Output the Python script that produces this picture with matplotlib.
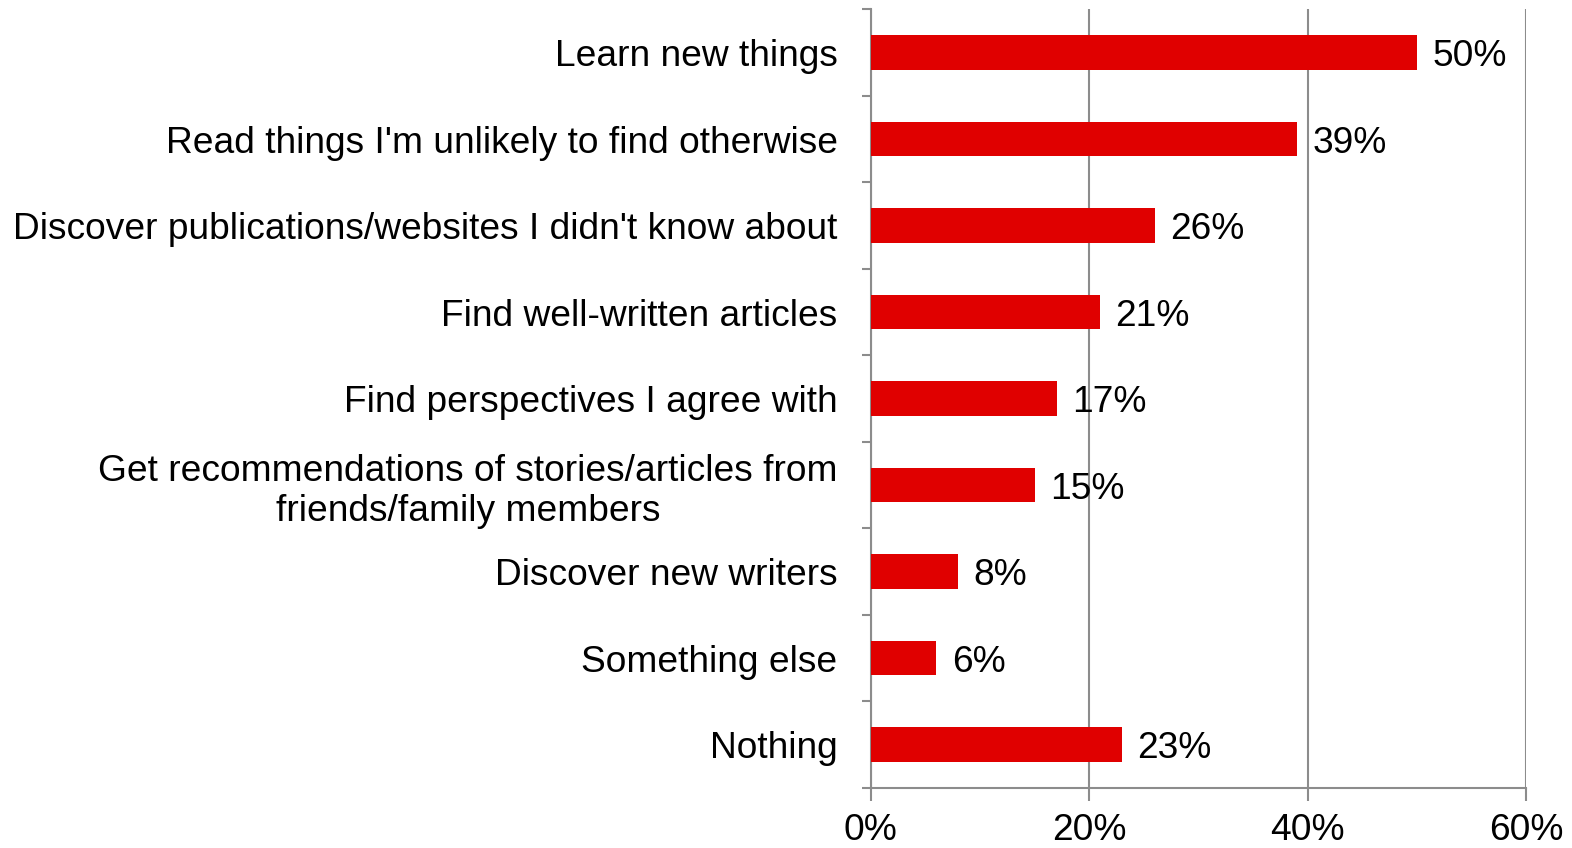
import numpy as np
import matplotlib
matplotlib.use("Agg")
import matplotlib.pyplot as plt
from matplotlib.ticker import FixedLocator

plt.rcParams['font.family'] = ['Liberation Sans', 'DejaVu Sans']

# survey answers, top to bottom
categories = [
    "Learn new things",
    "Read things I'm unlikely to find otherwise",
    "Discover publications/websites I didn't know about",
    "Find well-written articles",
    "Find perspectives I agree with",
    "Get recommendations of stories/articles from\nfriends/family members",
    "Discover new writers",
    "Something else",
    "Nothing",
]
values = [50, 39, 26, 21, 17, 15, 8, 6, 23]
x_ticks = [0, 20, 40, 60]

BAR_RED = "#e00000"
GRID_GREY = "#8c8c8c"
FS = 26.7

fig = plt.figure(figsize=(15.72, 8.48), dpi=100)
ax = fig.add_axes([0.554, 0.071, 0.417, 0.918])

y = np.arange(len(categories))
ax.barh(y, values, height=0.4, color=BAR_RED, zorder=3)

for yi, v in zip(y, values):
    ax.annotate(f"{v}%", xy=(v, yi), xytext=(11, 0), textcoords="offset points",
                va="center_baseline", ha="left", fontsize=FS, color="black", zorder=4)

ax.set_xlim(0, 60)
ax.set_ylim(len(categories) - 0.5, -0.5)

ax.set_xticks(x_ticks)
ax.set_xticklabels([f"{t}%" for t in x_ticks], fontsize=FS)
ax.tick_params(axis="x", length=9, width=1.5, color=GRID_GREY, pad=9)

ax.set_yticks(y)
ax.set_yticklabels(categories, fontsize=FS, multialignment="center")
ax.tick_params(axis="y", which="major", length=0, pad=24)
ax.yaxis.set_minor_locator(FixedLocator(np.arange(-0.5, len(categories), 1.0)))
ax.tick_params(axis="y", which="minor", length=6.5, width=1.5, color=GRID_GREY)

ax.grid(axis="x", color=GRID_GREY, linewidth=1.5, zorder=0)
for side in ["top", "right"]:
    ax.spines[side].set_visible(False)
for side in ["left", "bottom"]:
    ax.spines[side].set_color(GRID_GREY)
    ax.spines[side].set_linewidth(1.5)

fig.savefig("out.png", dpi=100)
